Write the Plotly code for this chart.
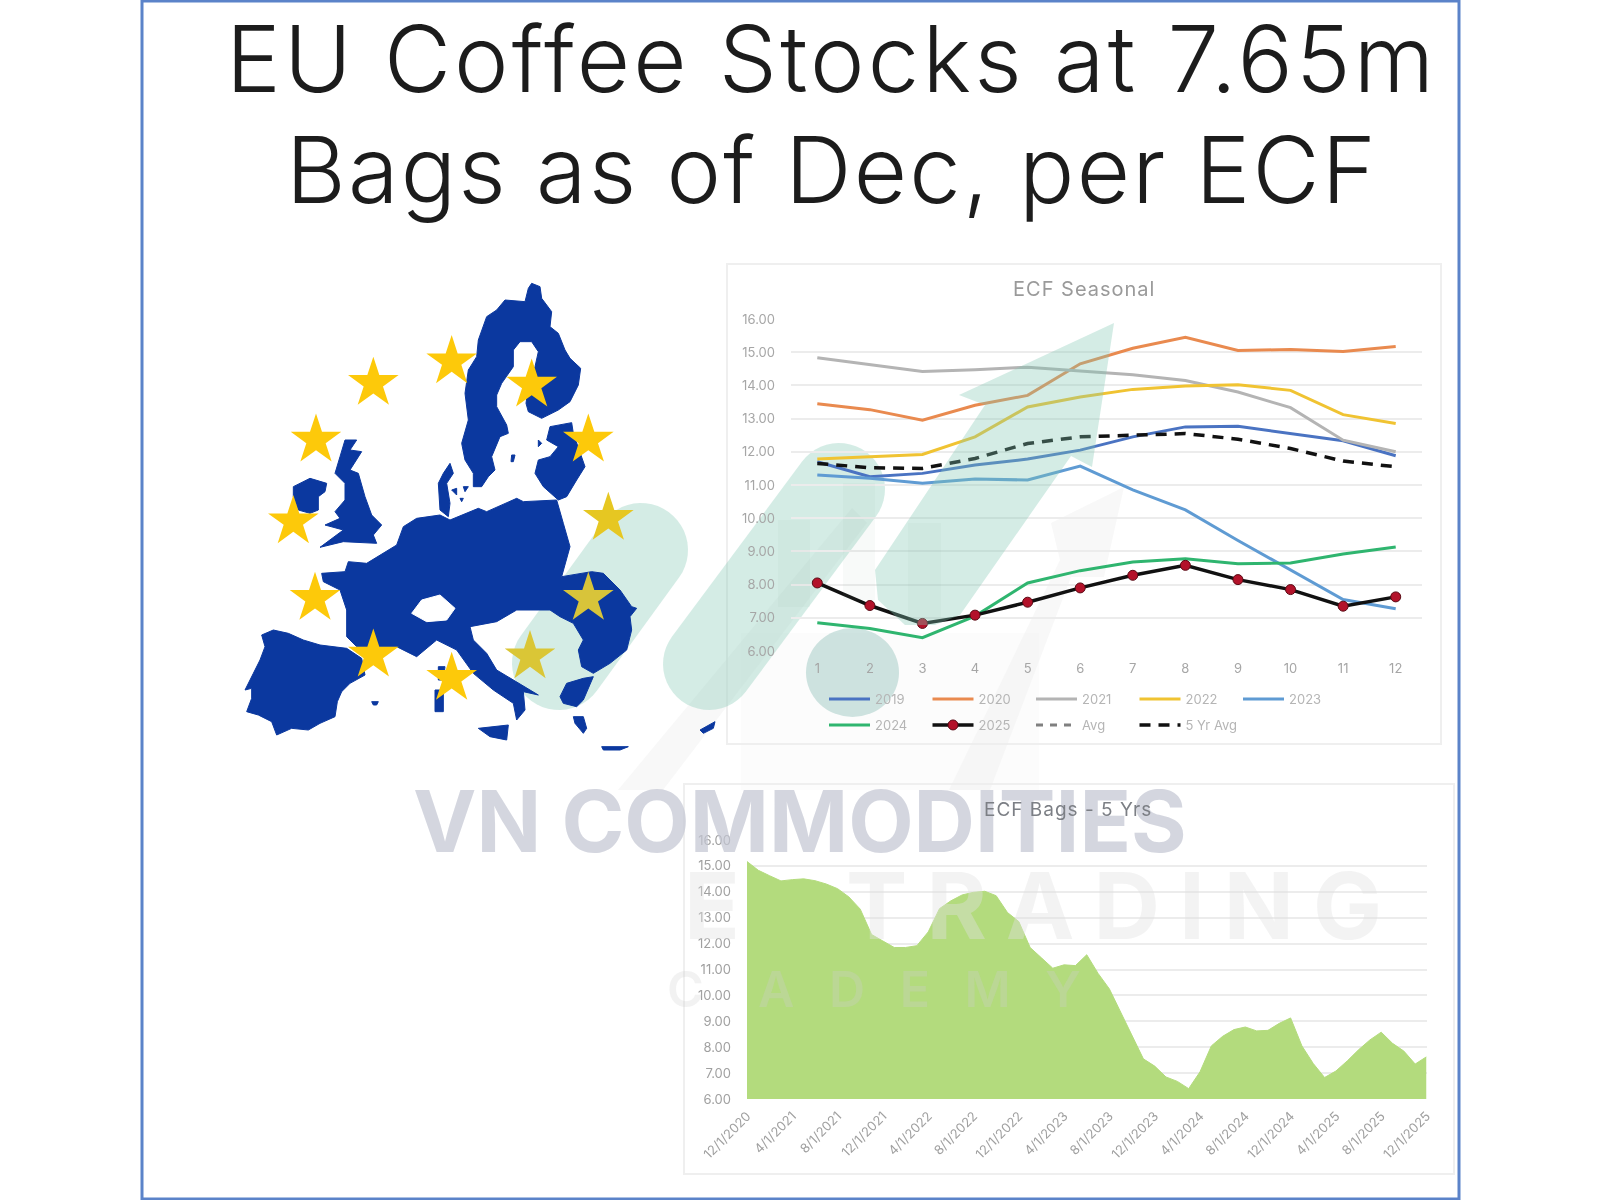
import math
import plotly.graph_objects as go

W, H = 1600, 1200

# ---------- data ----------
months = list(range(1, 13))
s2019 = [11.70, 11.25, 11.35, 11.60, 11.78, 12.05, 12.45, 12.75, 12.77, 12.55, 12.33, 11.88]
s2020 = [13.45, 13.27, 12.95, 13.40, 13.70, 14.65, 15.12, 15.45, 15.05, 15.08, 15.02, 15.17]
s2021 = [14.83, 14.62, 14.42, 14.47, 14.55, 14.43, 14.32, 14.15, 13.80, 13.33, 12.35, 12.00]
s2022 = [11.78, 11.85, 11.92, 12.45, 13.35, 13.65, 13.88, 13.98, 14.02, 13.85, 13.12, 12.85]
s2023 = [11.30, 11.20, 11.05, 11.18, 11.15, 11.57, 10.85, 10.25, 9.33, 8.45, 7.55, 7.27]
s2024 = [6.85, 6.68, 6.40, 7.05, 8.05, 8.42, 8.68, 8.78, 8.63, 8.65, 8.92, 9.13]
s2025 = [8.05, 7.37, 6.83, 7.08, 7.47, 7.90, 8.28, 8.58, 8.15, 7.85, 7.35, 7.63]
avg = [None] * 12
avg5 = [11.65, 11.52, 11.50, 11.80, 12.25, 12.45, 12.50, 12.55, 12.38, 12.10, 11.72, 11.55]

bag_dates = [f"{m}/1/{y}" for y in range(2021, 2026) for m in range(1, 13)]
bag_dates = ["12/1/2020"] + bag_dates
bag_values = [15.17,
              14.83, 14.62, 14.42, 14.47, 14.50, 14.43, 14.30, 14.12, 13.80, 13.33, 12.35, 12.10,
              11.85, 11.85, 11.92, 12.45, 13.35, 13.65, 13.88, 13.98, 14.02, 13.85, 13.20, 12.85,
              11.85, 11.45, 11.05, 11.18, 11.15, 11.57, 10.85, 10.25, 9.33, 8.45, 7.55, 7.27,
              6.85, 6.68, 6.40, 7.05, 8.05, 8.42, 8.68, 8.78, 8.63, 8.65, 8.92, 9.13,
              8.05, 7.37, 6.83, 7.08, 7.47, 7.90, 8.28, 8.58, 8.15, 7.85, 7.35, 7.63]
bag_ticks = bag_dates[::4]

# ---------- illustration outlines (map drawn on its own 1500x1470 axes) ----------
map_scand = [(905,40),(930,50),(935,85),(965,125),(960,170),(985,190),(1005,240),(1020,265),(1052,295),(1045,345),(1020,395),(985,420),(935,445),(895,425),(888,400),(895,350),(915,290),(925,245),(905,215),(870,215),(850,240),(850,290),(815,340),(800,375),(800,410),(830,465),(835,490),(810,500),(785,560),(795,600),(775,620),(755,650),(730,650),(730,610),(705,570),(695,520),(715,450),(705,370),(715,300),(740,260),(745,210),(770,140),(800,120),(825,90),(885,95),(895,55)]
map_denmark = [(660,580),(670,610),(650,640),(660,700),(655,740),(630,720),(625,640),(640,610)]
map_baltics = [(960,470),(1025,458),(1030,490),(1065,590),(1040,630),(1010,680),(985,690),(940,650),(915,610),(925,570),(960,560),(985,530),(950,510)]
map_uk = [(345,510),(380,510),(360,540),(395,545),(360,600),(385,610),(405,680),(425,735),(455,765),(430,795),(440,820),(340,815),(270,832),(340,780),(285,765),(330,745),(315,725),(345,690),(345,640),(315,610),(330,560)]
map_ireland = [(190,650),(240,625),(290,640),(285,665),(265,680),(265,720),(240,730),(205,720),(190,680)]
map_main = [(275,910),(345,905),(355,875),(410,880),(500,825),(520,770),(560,745),(630,735),(660,750),(745,715),(770,725),(860,685),(880,695),(980,690),(1000,760),(1020,830),(995,920),(1085,905),(1120,910),(1170,960),(1205,1010),(1220,1015),(1200,1040),(1205,1080),(1190,1140),(1140,1180),(1090,1210),(1055,1190),(1045,1140),(1060,1110),(1030,1060),(990,1040),(960,1020),(860,1020),(800,1055),(720,1070),(730,1110),(770,1150),(800,1200),(860,1235),(925,1275),(880,1265),(885,1320),(860,1350),(850,1300),(790,1260),(730,1210),(680,1140),(620,1110),(560,1160),(500,1130),(420,1130),(380,1130),(350,1100),(350,1020),(330,960),(280,935)]
map_spain = [(95,1095),(130,1080),(175,1090),(220,1110),(270,1125),(320,1130),(350,1135),(395,1165),(405,1215),(360,1240),(335,1265),(322,1295),(315,1340),(270,1360),(235,1380),(185,1375),(140,1395),(125,1355),(85,1335),(50,1325),(65,1285),(65,1255),(45,1260),(70,1210),(90,1170),(105,1130)]
map_greece = [(990,1280),(1010,1240),(1060,1225),(1090,1220),(1060,1290),(1040,1310),(1000,1300)]
map_pelop = [(1030,1340),(1060,1340),(1070,1375),(1060,1390),(1035,1360)]
map_isles = [
    [(745,1375),(835,1365),(830,1410),(780,1400)],
    [(615,1260),(640,1260),(640,1325),(615,1325)],
    [(625,1190),(645,1190),(640,1230),(625,1230)],
    [(1115,1430),(1195,1430),(1170,1440),(1120,1440)],
    [(1410,1380),(1455,1355),(1450,1375),(1420,1390)],
    [(425,1295),(445,1295),(440,1305),(430,1305)],
    [(845,555),(855,555),(850,575),(843,575)],
    [(925,510),(935,520),(925,530)],
    [(665,660),(680,655),(680,675)],
    [(700,650),(715,650),(705,665)],
    [(690,685),(700,685),(695,695)],
]
map_swiss = [(545,1030),(575,990),(630,975),(675,1015),(650,1050),(590,1055)]
star_x = [430, 665, 905, 1075, 1135, 1075, 900, 665, 430, 255, 190, 258]
star_y = [340, 275, 345, 510, 745, 985, 1160, 1225, 1155, 985, 755, 510]
star_col = ["#fdc90a", "#fdc90a", "#fdc90a", "#fdc90a", "#e6c722", "#d8c43a", "#dac636",
            "#fdc90a", "#fdc90a", "#fdc90a", "#fdc90a", "#fdc90a"]

fig = go.Figure()

# ---------- map ----------
def poly(points, color):
    xs = [p[0] for p in points] + [points[0][0]]
    ys = [p[1] for p in points] + [points[0][1]]
    fig.add_trace(go.Scatter(x=xs, y=ys, xaxis="x3", yaxis="y3", mode="lines", fill="toself",
                             fillcolor=color, line=dict(color=color, width=1),
                             hoverinfo="skip", showlegend=False))

BLUE = "#0b389f"
for shape_pts in [map_scand, map_denmark, map_baltics, map_uk, map_ireland, map_main, map_spain,
                  map_greece, map_pelop] + map_isles:
    poly(shape_pts, BLUE)
poly(map_swiss, "#ffffff")
fig.add_trace(go.Scatter(x=star_x, y=star_y, xaxis="x3", yaxis="y3", mode="markers",
                         marker=dict(symbol="star", size=38, color=star_col, line=dict(width=0)),
                         hoverinfo="skip", showlegend=False))

# ---------- seasonal ----------
series = [("2019", s2019, "#4a73c2", "legend"), ("2020", s2020, "#e98a4f", "legend"),
          ("2021", s2021, "#b4b4b4", "legend"), ("2022", s2022, "#f0c332", "legend"),
          ("2023", s2023, "#5f9bd3", "legend"), ("2024", s2024, "#2fb56f", "legend2")]
for name, vals, col, lg in series:
    fig.add_trace(go.Scatter(x=months, y=vals, name=name, mode="lines", legend=lg,
                             line=dict(color=col, width=3), xaxis="x", yaxis="y"))
fig.add_trace(go.Scatter(x=months, y=s2025, name="2025", mode="lines+markers", legend="legend2",
                         line=dict(color="#111111", width=3.5), xaxis="x", yaxis="y",
                         marker=dict(size=10, color="#b3122a", line=dict(color="#5a0a14", width=1))))
fig.add_trace(go.Scatter(x=months, y=avg, name="Avg", mode="lines", legend="legend2",
                         line=dict(color="#808080", width=3, dash="7px,7px"), xaxis="x", yaxis="y"))
fig.add_trace(go.Scatter(x=months, y=avg5, name="5 Yr Avg", mode="lines", legend="legend2",
                         line=dict(color="#111111", width=3.5, dash="11px,8px"), xaxis="x", yaxis="y"))

# ---------- area ----------
fig.add_trace(go.Scatter(x=bag_dates, y=bag_values, mode="lines", fill="tozeroy", name="ECF Bags",
                         fillcolor="#b3db7d", line=dict(color="#b3db7d", width=1),
                         xaxis="x2", yaxis="y2", showlegend=False))

# ---------- helpers for page-positioned decoration ----------
def px(x):
    return x / W
def py(y):
    return 1 - y / H
def path_of(pts):
    return "M" + " L".join(f"{px(a):.5f},{py(b):.5f}" for a, b in pts) + " Z"
def pill(x1, y1, x2, y2, r):
    ang = math.atan2(y2 - y1, x2 - x1)
    pts = []
    for i in range(25):
        t = ang + math.pi / 2 + math.pi * i / 24
        pts.append((x1 + r * math.cos(t), y1 + r * math.sin(t)))
    for i in range(25):
        t = ang - math.pi / 2 + math.pi * i / 24
        pts.append((x2 + r * math.cos(t), y2 + r * math.sin(t)))
    return pts
def fill_path(pts, color, layer="above"):
    return dict(type="path", xref="paper", yref="paper", path=path_of(pts), fillcolor=color,
                line=dict(width=0), layer=layer)
def box(x0, y0, x1, y1, line_col, width=2, fill=None, layer="below"):
    return dict(type="rect", xref="paper", yref="paper", x0=px(x0), x1=px(x1), y0=py(y0), y1=py(y1),
                line=dict(color=line_col, width=width), fillcolor=fill, layer=layer)

TEAL = "rgba(130,200,178,0.34)"
PALE = "rgba(232,232,232,0.32)"
shapes = [
    box(142, 1, 1459, 1199, "#5b83c9", 3, None, "above"),
    box(727, 264, 1441, 744, "#efefef", 2),
    box(684, 784, 1454, 1174, "#efefef", 2),
    # faint grey arrow bands and cup
    fill_path([(618, 790), (663, 790), (867, 523), (852, 508)], PALE, "below"),
    fill_path([(949, 790), (990, 790), (1071, 577), (1104, 577), (1124, 487), (1051, 523), (1060, 560)], PALE, "below"),
    fill_path([(741, 633), (1039, 633), (1039, 790), (741, 790)], "rgba(240,240,240,0.22)", "below"),
    # teal mark
    fill_path(pill(641, 550, 559, 663, 47), TEAL, "below"),
    fill_path(pill(839, 489, 709, 664, 46), TEAL, "below"),
    dict(type="circle", xref="paper", yref="paper", x0=px(806), x1=px(899), y0=py(628), y1=py(717),
         fillcolor="rgba(130,185,175,0.38)", line=dict(width=0), layer="below"),
    fill_path([(1114, 323), (1092, 467), (1071, 456), (960, 615), (935, 625), (905, 625), (878, 600),
               (875, 570), (985, 405), (959, 395)], TEAL),
    box(778, 520, 810, 607, "rgba(0,0,0,0)", 0, "rgba(130,170,155,0.06)", "above"),
    box(843, 483, 875, 600, "rgba(0,0,0,0)", 0, "rgba(130,170,155,0.06)", "above"),
    box(908, 523, 941, 620, "rgba(0,0,0,0)", 0, "rgba(130,170,155,0.06)", "above"),
]

def note(text, x, y, size, color, weight=400, family="Inter", spacing=0):
    shown = f'<span style="letter-spacing:{spacing}px">{text}</span>' if spacing else text
    return dict(text=shown, x=px(x), y=py(y), xref="paper", yref="paper", xanchor="center", yanchor="middle",
                showarrow=False, font=dict(size=size, color=color, family=family, weight=weight))

annotations = [
    note("EU Coffee Stocks at 7.65m", 831, 58, 92, "#1c1c1c", 300, spacing=3.2),
    note("Bags as of Dec, per ECF", 832, 170, 92, "#1c1c1c", 300, spacing=2.2),
    note("E", 712, 905, 92, "rgba(225,225,225,0.40)", 700),
    note("TRADING", 1123, 905, 92, "rgba(225,225,225,0.40)", 700, spacing=19),
    note("C", 685, 989, 50, "rgba(205,205,205,0.26)", 600),
    note("A D E M Y", 925, 989, 50, "rgba(205,205,205,0.30)", 600, spacing=11),
    note("VN COMMODITIES", 800, 821, 85, "rgba(195,198,210,0.72)", 700),
    note("ECF Seasonal", 1084, 289, 20, "#9a9a9a", 400, spacing=1),
    note("ECF Bags - 5 Yrs", 1068, 809, 19, "#7c7f85", 400, spacing=1),
]

GRID = "#ececec"
TICK = dict(size=13, color="#a6a6a6", family="Inter")
fig.update_layout(
    width=W, height=H, margin=dict(l=0, r=0, t=0, b=0, autoexpand=False), autosize=False,
    paper_bgcolor="#ffffff", plot_bgcolor="rgba(0,0,0,0)", font=dict(family="Inter"),
    shapes=shapes, annotations=annotations, hovermode=False,
    xaxis=dict(domain=[791 / W, 1422 / W], range=[0.5, 12.5], tickmode="array", tickvals=months,
               showgrid=False, zeroline=False, showline=False, tickfont=TICK, ticklabelstandoff=8),
    yaxis=dict(domain=[1 - 651 / H, 1 - 319 / H], range=[6, 16], dtick=1, tickformat=".2f",
               gridcolor=GRID, gridwidth=2, zeroline=False, showline=False, tickfont=TICK,
               ticklabelstandoff=15),
    xaxis2=dict(domain=[747 / W, 1426.5 / W], type="category", categoryorder="array",
                categoryarray=bag_dates, range=[0, 60], tickmode="array", tickvals=bag_ticks,
                tickangle=-45, showgrid=False, zeroline=False, showline=False, ticklabelstandoff=6,
                tickfont=dict(size=13, color="#a0a0a0", family="Inter"), anchor="y2"),
    yaxis2=dict(domain=[1 - 1099 / H, 1 - 840 / H], range=[6, 16], dtick=1, tickformat=".2f",
                gridcolor=GRID, gridwidth=2, zeroline=False, showline=False,
                tickfont=dict(size=13, color="#a0a0a0", family="Inter"), ticklabelstandoff=15,
                anchor="x2"),
    xaxis3=dict(domain=[230 / W, 730 / W], range=[0, 1500], visible=False, anchor="y3"),
    yaxis3=dict(domain=[1 - 760 / H, 1 - 270 / H], range=[1470, 0], visible=False, anchor="x3"),
    legend=dict(orientation="h", x=px(824), y=py(699), xanchor="left", yanchor="middle",
                itemwidth=41, entrywidth=47.5, entrywidthmode="pixels", bgcolor="rgba(0,0,0,0)",
                font=dict(size=13, color="#b5b5b5", family="Inter"), itemclick=False, itemdoubleclick=False),
    legend2=dict(orientation="h", x=px(824), y=py(725), xanchor="left", yanchor="middle",
                 itemwidth=41, entrywidth=47.5, entrywidthmode="pixels", bgcolor="rgba(0,0,0,0)",
                 font=dict(size=13, color="#b5b5b5", family="Inter"), itemclick=False, itemdoubleclick=False),
)

fig.write_html("out.html", config={"displayModeBar": False},
               post_script="document.body.style.margin='0';"
                           "document.querySelector('.plotly-graph-div').style.filter='blur(0.6px)';")
